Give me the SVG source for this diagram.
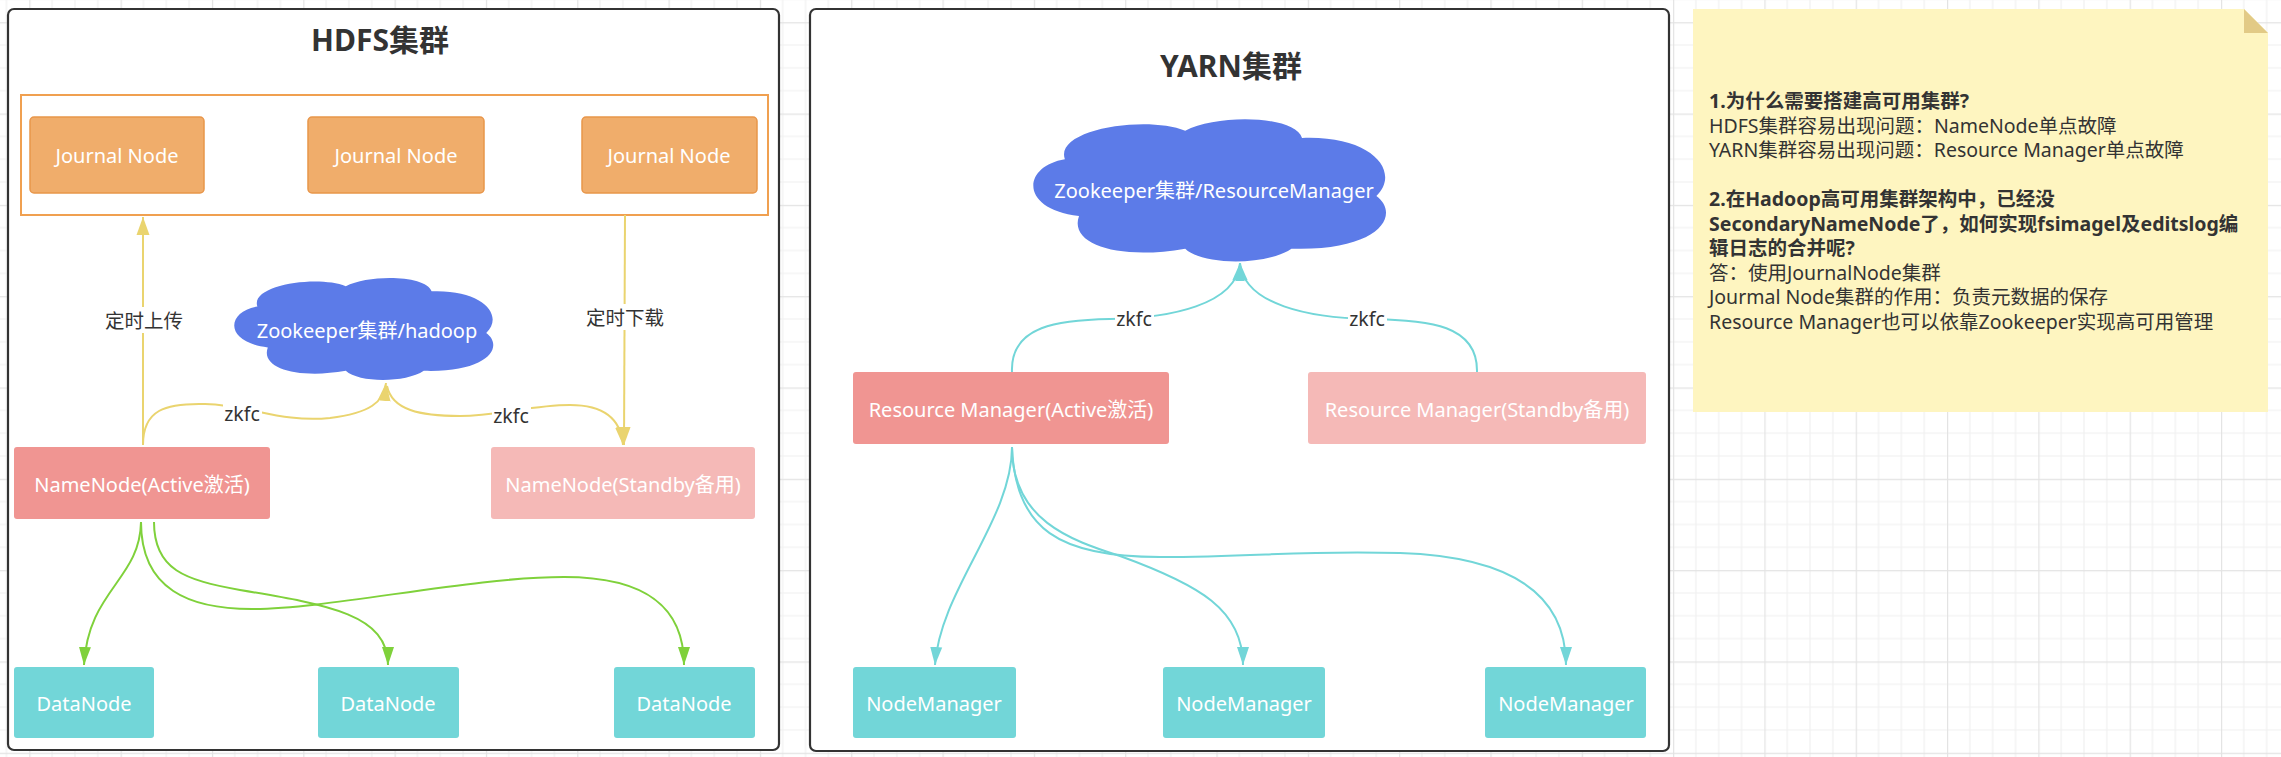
<svg xmlns="http://www.w3.org/2000/svg" width="2281" height="757" viewBox="0 0 2281 757">
<style>
  text { font-family: "Noto Sans", "Noto Sans CJK SC", sans-serif; }
  .frame { fill: #ffffff; stroke: #333333; stroke-width: 2.2; }
  .title { font-size: 30px; font-weight: bold; fill: #333333; text-anchor: middle; }
  .jn { fill: #f0ad6b; stroke: #e8964a; stroke-width: 1.5; }
  .act { fill: #f09592; }
  .stb { fill: #f5b9b7; }
  .dn { fill: #72d6d8; }
  .cloud { fill: #5c7be8; }
  .nt { font-size: 20px; fill: #ffffff; text-anchor: middle; dominant-baseline: central; }
  .lbl { font-size: 19.5px; fill: #333333; text-anchor: middle; dominant-baseline: central; }
  .lblbg { fill: #ffffff; }
  .cy { fill: none; stroke: #ead46f; stroke-width: 2; }
  .cg { fill: none; stroke: #7fd13b; stroke-width: 2; }
  .cc { fill: none; stroke: #72d6d8; stroke-width: 2; }
  .note { font-size: 19.5px; fill: #333333; }
  .b { font-weight: bold; }
</style>
<defs>
  <pattern id="grid" patternUnits="userSpaceOnUse" x="29.3" y="22.2" width="91.32" height="91.32">
    <path d="M22.83,0V91.32M45.66,0V91.32M68.49,0V91.32M0,22.83H91.32M0,45.66H91.32M0,68.49H91.32" stroke="#f0f0f0" stroke-width="1.2" fill="none"/>
    <path d="M0.6,0V91.32M0,0.6H91.32" stroke="#e3e3e3" stroke-width="1.2" fill="none"/>
  </pattern>
  <marker id="ay" markerUnits="userSpaceOnUse" markerWidth="20" markerHeight="14" refX="18" refY="6.5" orient="auto" viewBox="0 0 20 13"><path d="M0,0 L18,6.5 L0,13 Z" fill="#ead46f"/></marker>
  <marker id="ag" markerUnits="userSpaceOnUse" markerWidth="20" markerHeight="14" refX="18" refY="6" orient="auto" viewBox="0 0 20 12"><path d="M0,0 L18,6 L0,12 Z" fill="#7fd13b"/></marker>
  <marker id="ac" markerUnits="userSpaceOnUse" markerWidth="20" markerHeight="14" refX="18" refY="6" orient="auto" viewBox="0 0 20 12"><path d="M0,0 L18,6 L0,12 Z" fill="#72d6d8"/></marker>
  <path id="cloudshape" d="M9,29 C6,8 32,-2 43,9 C52,-3 74,-2 76,14 C96,12 104,38 97,55 C104,68 98,94 73,92 C66,104 48,104 43,92 C25,100 10,90 13,69 C-4,64 -3,34 9,29 Z"/>
</defs>

<rect x="0" y="0" width="2281" height="757" fill="#ffffff"/>
<rect x="0" y="0" width="2281" height="757" fill="url(#grid)"/>

<!-- HDFS cluster frame -->
<g id="hdfs-frame">
  <rect class="frame" x="8" y="9" width="771" height="741" rx="6"/>
  <text class="title" x="380" y="51">HDFS集群</text>
</g>

<!-- YARN cluster frame -->
<g id="yarn-frame">
  <rect class="frame" x="810" y="9" width="859" height="742" rx="6"/>
  <text class="title" x="1231" y="77">YARN集群</text>
</g>

<!-- Journal container -->
<g id="journal-group">
  <rect x="21" y="95" width="747" height="120" fill="#ffffff" stroke="#f0a050" stroke-width="2"/>
</g>
<g id="jn1"><rect class="jn" x="30" y="117" width="174" height="76" rx="4"/><text class="nt" x="117" y="155">Journal Node</text></g>
<g id="jn2"><rect class="jn" x="308" y="117" width="176" height="76" rx="4"/><text class="nt" x="396" y="155">Journal Node</text></g>
<g id="jn3"><rect class="jn" x="582" y="117" width="175" height="76" rx="4"/><text class="nt" x="669" y="155">Journal Node</text></g>

<!-- connectors -->
<g id="connectors">
  <!-- HDFS yellow -->
  <path class="cy" d="M143,445 L143,217" marker-end="url(#ay)"/>
  <path class="cy" d="M625,215 L624,445" marker-end="url(#ay)"/>
  <path class="cy" d="M143,445 C143,410 165,403 205,404 C250,405 280,423 330,418 C370,413 384,402 386,383" marker-end="url(#ay)"/>
  <path class="cy" d="M387,386 C392,410 420,416 460,416 C500,416 530,405 570,405 C605,405 621,420 623,445" marker-end="url(#ay)"/>
  <!-- HDFS green -->
  <path class="cg" d="M141,522 C140,580 88,590 84,665" marker-end="url(#ag)"/>
  <path class="cg" d="M141,522 C141,590 190,609 252,609 C330,609 470,577 564,577 C650,577 684,610 684,665" marker-end="url(#ag)"/>
  <path class="cg" d="M154,522 C154,570 185,580 240,590 C330,605 388,615 388,665" marker-end="url(#ag)"/>
  <!-- YARN cyan -->
  <path class="cc" d="M1012,372 C1010,325 1060,320 1110,319 C1170,318 1236,305 1240,263" marker-end="url(#ac)"/>
  <path class="cc" d="M1477,372 C1478,325 1430,320 1370,319 C1310,318 1244,305 1240,263" marker-end="url(#ac)"/>
  <path class="cc" d="M1012,447 C1012,520 940,590 935,665" marker-end="url(#ac)"/>
  <path class="cc" d="M1012,447 C1012,520 1070,540 1120,556 C1200,585 1243,610 1243,665" marker-end="url(#ac)"/>
  <path class="cc" d="M1012,447 C1015,530 1060,557 1160,557 C1260,557 1300,550 1400,553 C1520,557 1566,600 1566,665" marker-end="url(#ac)"/>
  <!-- labels -->
  <rect class="lblbg" x="104" y="307" width="80" height="26"/>
  <text class="lbl" x="144" y="320">定时上传</text>
  <rect class="lblbg" x="585" y="304" width="80" height="26"/>
  <text class="lbl" x="625" y="317">定时下载</text>
  <rect class="lblbg" x="223" y="401" width="39" height="24"/>
  <text class="lbl" x="242" y="413">zkfc</text>
  <rect class="lblbg" x="492" y="403" width="39" height="24"/>
  <text class="lbl" x="511" y="415">zkfc</text>
  <rect class="lblbg" x="1115" y="306" width="39" height="24"/>
  <text class="lbl" x="1134" y="318">zkfc</text>
  <rect class="lblbg" x="1348" y="306" width="39" height="24"/>
  <text class="lbl" x="1367" y="318">zkfc</text>
</g>

<!-- Zookeeper clouds -->
<g id="zk-hdfs">
  <use href="#cloudshape" class="cloud" transform="translate(234,277) scale(2.6,1.02)"/>
  <text class="nt" x="367" y="330">Zookeeper集群/hadoop</text>
</g>
<g id="zk-yarn">
  <use href="#cloudshape" class="cloud" transform="translate(1033,118) scale(3.54,1.42)"/>
  <text class="nt" x="1214" y="190">Zookeeper集群/ResourceManager</text>
</g>

<!-- NameNodes -->
<g id="nn-active"><rect class="act" x="14" y="447" width="256" height="72" rx="3"/><text class="nt" x="142" y="484">NameNode(Active激活)</text></g>
<g id="nn-standby"><rect class="stb" x="491" y="447" width="264" height="72" rx="3"/><text class="nt" x="623" y="484">NameNode(Standby备用)</text></g>

<!-- DataNodes -->
<g id="dn1"><rect class="dn" x="14" y="667" width="140" height="71" rx="3"/><text class="nt" x="84" y="703">DataNode</text></g>
<g id="dn2"><rect class="dn" x="318" y="667" width="141" height="71" rx="3"/><text class="nt" x="388" y="703">DataNode</text></g>
<g id="dn3"><rect class="dn" x="614" y="667" width="141" height="71" rx="3"/><text class="nt" x="684" y="703">DataNode</text></g>

<!-- Resource Managers -->
<g id="rm-active"><rect class="act" x="853" y="372" width="316" height="72" rx="3"/><text class="nt" x="1011" y="409">Resource Manager(Active激活)</text></g>
<g id="rm-standby"><rect class="stb" x="1308" y="372" width="338" height="72" rx="3"/><text class="nt" x="1477" y="409">Resource Manager(Standby备用)</text></g>

<!-- NodeManagers -->
<g id="nm1"><rect class="dn" x="853" y="667" width="163" height="71" rx="3"/><text class="nt" x="934" y="703">NodeManager</text></g>
<g id="nm2"><rect class="dn" x="1163" y="667" width="162" height="71" rx="3"/><text class="nt" x="1244" y="703">NodeManager</text></g>
<g id="nm3"><rect class="dn" x="1485" y="667" width="161" height="71" rx="3"/><text class="nt" x="1566" y="703">NodeManager</text></g>

<!-- Note -->
<g id="note">
  <polygon points="1693,9 2244,9 2268,33 2268,412 1693,412" fill="#fef5c0"/>
  <polygon points="2244,9 2268,33 2244,33" fill="#e2ca86"/>
  <text class="note b" x="1709" y="108">1.为什么需要搭建高可用集群?</text>
  <text class="note" x="1709" y="132.5">HDFS集群容易出现问题：NameNode单点故障</text>
  <text class="note" x="1709" y="157">YARN集群容易出现问题：Resource Manager单点故障</text>
  <text class="note b" x="1709" y="206">2.在Hadoop高可用集群架构中，已经没</text>
  <text class="note b" x="1709" y="230.5">SecondaryNameNode了，如何实现fsimagel及editslog编</text>
  <text class="note b" x="1709" y="255">辑日志的合并呢?</text>
  <text class="note" x="1709" y="279.5">答：使用JournalNode集群</text>
  <text class="note" x="1709" y="304">Jourmal Node集群的作用：负责元数据的保存</text>
  <text class="note" x="1709" y="328.5">Resource Manager也可以依靠Zookeeper实现高可用管理</text>
</g>
</svg>
